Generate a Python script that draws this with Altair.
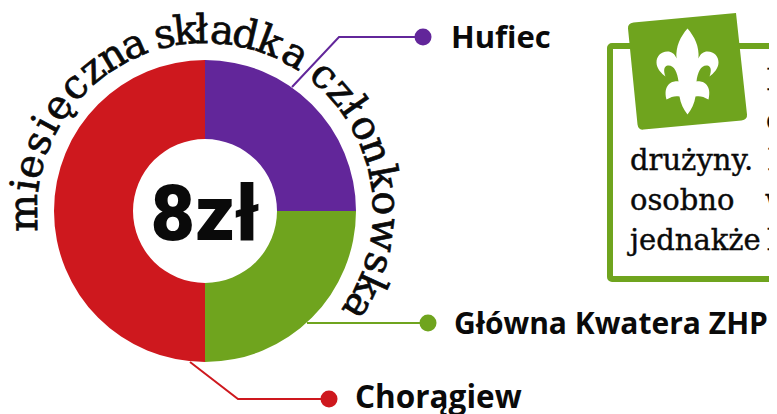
import math
import altair as alt
import pandas as pd

# donut
slices = ["Hufiec", "Główna Kwatera ZHP", "Chorągiew"]
shares = [25, 25, 50]
colors = ["#62269A", "#6FA41E", "#CE181E"]

# curved title: each letter and its bearing in degrees
curve_chars = list("miesięcznaskładkaczłonkowska")
curve_deg = [-90.6, -81.8, -75.7, -67.8, -61.5, -54.8, -46.4, -38.6, -31, -23.2,
             -13, -6.2, -1, 5.5, 13, 21, 30,
             41.3, 49, 55, 62.5, 70.5, 79.3, 87.5, 97.5, 107, 114.5, 122]

# connectors in image pixels
line_group = ["Hufiec"] * 3 + ["Główna Kwatera ZHP"] * 2 + ["Chorągiew"] * 3
line_x = [292, 339, 423, 307, 428, 190, 238, 329]
line_y = [87, 37, 37, 323, 323, 362, 399, 399]
dot_x = [423, 428, 329]
dot_y = [37, 323, 399]
label_x = [451, 454, 355]
label_y = [48, 334, 408]
label_size = [31, 30, 31.5]

# note box
body_text = ["H", "o", "drużyny.", "I", "osobno", "w", "jednakże", "l"]
body_x = [766, 766, 630, 767, 630, 765, 630, 767]
body_y = [90, 130, 170, 170, 210, 210, 250, 250]

W, H = 761, 406
xs = alt.Scale(domain=[8, 769], range=[0, W])
ys = alt.Scale(domain=[8, 414], range=[0, H])
cx, cy = 205 - 8, 211 - 8

FLEUR = ("M0,-43 C7,-35 12,-25 11,-13 C13,-18 16,-20 20,-20 C27,-20 31,-15 31,-9 C31,-3 26,2 22,5 "
         "C24,0 24,-5 20,-6 C14,-7 10,0 9,10 C14,9 25,12 21,28 C16,25 12,24 8,25 C7,32 4,38 0,43 "
         "C-4,38 -7,32 -8,25 C-12,24 -16,25 -21,28 C-25,12 -14,9 -9,10 C-10,0 -14,-7 -20,-6 "
         "C-24,-5 -24,0 -22,5 C-26,2 -31,-3 -31,-9 C-31,-15 -27,-20 -20,-20 C-16,-20 -13,-18 -11,-13 "
         "C-12,-25 -7,-35 0,-43Z")
TAG = ("M-59.5,-43 Q-60,-48 -54,-49 L48.5,-58.5 L59.5,43 Q60,48 54,49 L-44,58 Q-49,59 -50,53 Z")

donut_df = pd.DataFrame({"name": slices, "share": shares, "o": [0, 1, 2]})
color_enc = alt.Color("name:N", scale=alt.Scale(domain=slices, range=colors), legend=None)

lines = alt.Chart(pd.DataFrame({"name": line_group, "x": line_x, "y": line_y, "i": range(len(line_x))})).mark_line(
    strokeWidth=2).encode(
    x=alt.X("x:Q", scale=xs, axis=None), y=alt.Y("y:Q", scale=ys, axis=None),
    detail="name:N", order="i:Q",
    color=color_enc)

donut = alt.Chart(donut_df).mark_arc(radius=151, radius2=72).encode(
    theta=alt.Theta("share:Q", stack=True, scale=alt.Scale(domain=[0, 100], range=[0, 2 * math.pi])),
    order="o:Q", color=color_enc,
    x=alt.value(cx), y=alt.value(cy))

dots_df = pd.DataFrame({"name": slices, "x": dot_x, "y": dot_y, "lx": label_x, "ly": label_y, "fs": label_size})
dots = alt.Chart(dots_df).mark_point(filled=True, opacity=1, size=290, shape="circle", strokeWidth=0).encode(
    x=alt.X("x:Q", scale=xs, axis=None), y=alt.Y("y:Q", scale=ys, axis=None), color=color_enc)
labels = alt.Chart(dots_df).mark_text(align="left", baseline="alphabetic", font="Open Sans",
                                      fontWeight="bold", color="#0a0a0a").encode(
    x=alt.X("lx:Q", scale=xs, axis=None), y=alt.Y("ly:Q", scale=ys, axis=None), text="name:N",
    size=alt.Size("fs:Q", scale=None, legend=None))

curve = alt.Chart(pd.DataFrame({"c": curve_chars, "deg": curve_deg})).mark_text(
    radius=168, align="center", baseline="alphabetic", font="DejaVu Serif", fontSize=40,
    color="#0a0a0a", stroke="#0a0a0a", strokeWidth=0.7).encode(
    theta=alt.Theta("deg:Q", stack=False, scale=alt.Scale(domain=[0, 360], range=[0, 2 * math.pi])),
    angle=alt.Angle("deg:Q", scale=None),
    x=alt.value(cx), y=alt.value(cy), text="c:N")

center = alt.Chart(pd.DataFrame({"t": ["8zł"]})).mark_text(
    align="center", baseline="alphabetic", font="Roboto", fontWeight=900, fontSize=77, color="#0a0a0a").encode(
    x=alt.value(205 - 8), y=alt.value(240 - 8), text="t:N")

box = alt.Chart(pd.DataFrame({"x": [610], "x2": [830], "y": [46], "y2": [279]})).mark_rect(
    fill="white", stroke="#6FA41E", strokeWidth=6, cornerRadius=2).encode(
    x=alt.X("x:Q", scale=xs, axis=None), x2="x2:Q",
    y=alt.Y("y:Q", scale=ys, axis=None), y2="y2:Q")

body = alt.Chart(pd.DataFrame({"t": body_text, "x": body_x, "y": body_y})).mark_text(
    align="left", baseline="alphabetic", font="DejaVu Serif", fontSize=29,
    color="#0a0a0a", stroke="#0a0a0a", strokeWidth=0.4).encode(
    x=alt.X("x:Q", scale=xs, axis=None), y=alt.Y("y:Q", scale=ys, axis=None), text="t:N")

sym_df = pd.DataFrame({"x": [687.5], "y": [71.5]})
tag = alt.Chart(sym_df).mark_point(shape=TAG, size=4, filled=True, opacity=1, fill="#6FA41E", strokeWidth=0).encode(
    x=alt.X("x:Q", scale=xs, axis=None), y=alt.Y("y:Q", scale=ys, axis=None))
fleur = alt.Chart(sym_df).mark_point(shape=FLEUR, size=4, filled=True, opacity=1, fill="white", strokeWidth=0).encode(
    x=alt.X("x:Q", scale=xs, axis=None), y=alt.Y("y:Q", scale=ys, axis=None))

chart = alt.layer(lines, donut, dots, labels, curve, center, box, body, tag, fleur).resolve_scale(
    color="shared", theta="independent"
).properties(
    width=W, height=H, padding=0, autosize=alt.AutoSizeParams(type="none"), background="white"
).configure_view(stroke=None)

chart.save("out.html", embed_options={"renderer": "svg", "actions": False})
